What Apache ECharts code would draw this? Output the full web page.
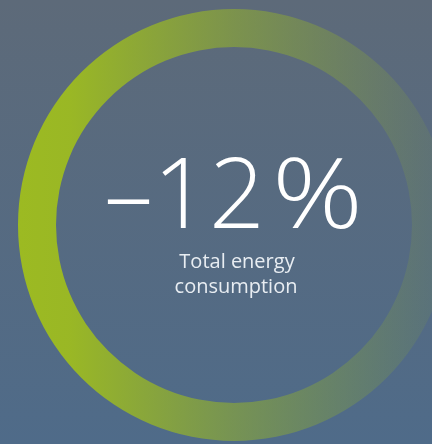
<!DOCTYPE html>
<html>
<head>
<meta charset="utf-8">
<script src="https://cdn.jsdelivr.net/npm/echarts@6/dist/echarts.min.js"></script>
<style>
  html, body { margin: 0; padding: 0; }
  #chart { width: 432px; height: 444px; }
</style>
</head>
<body>
<div id="chart"></div>
<script>
// Headline figure and caption
const changeValue = [-12];
const changeUnit = ['%'];
const captionLines = ['Total energy', 'consumption'];
// The ring is a single full slice
const ringShare = [100];

const chart = echarts.init(document.getElementById('chart'), null, { renderer: 'canvas' });

const num = changeValue[0];
const numText = (num < 0 ? '\u2013' : '+') + Math.abs(num);

chart.setOption({
  animation: false,
  backgroundColor: new echarts.graphic.LinearGradient(0, 0, 0, 1, [
    { offset: 0, color: '#5d6a79' },
    { offset: 1, color: '#4f6b89' }
  ]),
  series: [{
    type: 'pie',
    silent: true,
    center: [234, 225],
    radius: [178, 216],
    startAngle: 90,
    label: { show: false },
    labelLine: { show: false },
    itemStyle: {
      color: new echarts.graphic.LinearGradient(0, 0, 1, 0, [
        { offset: 0, color: 'rgba(156,186,34,1)' },
        { offset: 0.12, color: 'rgba(156,186,34,0.97)' },
        { offset: 0.5, color: 'rgba(150,180,40,0.55)' },
        { offset: 1, color: 'rgba(140,170,50,0.08)' }
      ])
    },
    data: ringShare.map(v => ({ value: v }))
  }],
  graphic: [
    {
      type: 'text',
      x: 265, y: 151,
      style: {
        text: numText,
        font: '350 98px "Open Sans", sans-serif',
        fill: '#ffffff',
        align: 'right',
        verticalAlign: 'top'
      }
    },
    {
      type: 'text',
      x: 272, y: 151,
      scaleX: 1.15,
      style: {
        text: changeUnit[0],
        font: '350 98px "Open Sans", sans-serif',
        fill: '#ffffff',
        align: 'left',
        verticalAlign: 'top'
      }
    },
    {
      type: 'text',
      x: 237, y: 252,
      style: {
        text: captionLines[0],
        font: '20px "Open Sans", sans-serif',
        fill: '#e8edf2',
        align: 'center',
        verticalAlign: 'top'
      }
    },
    {
      type: 'text',
      x: 236, y: 277,
      style: {
        text: captionLines[1],
        font: '20px "Open Sans", sans-serif',
        fill: '#e8edf2',
        align: 'center',
        verticalAlign: 'top'
      }
    }
  ]
});
</script>
</body>
</html>
